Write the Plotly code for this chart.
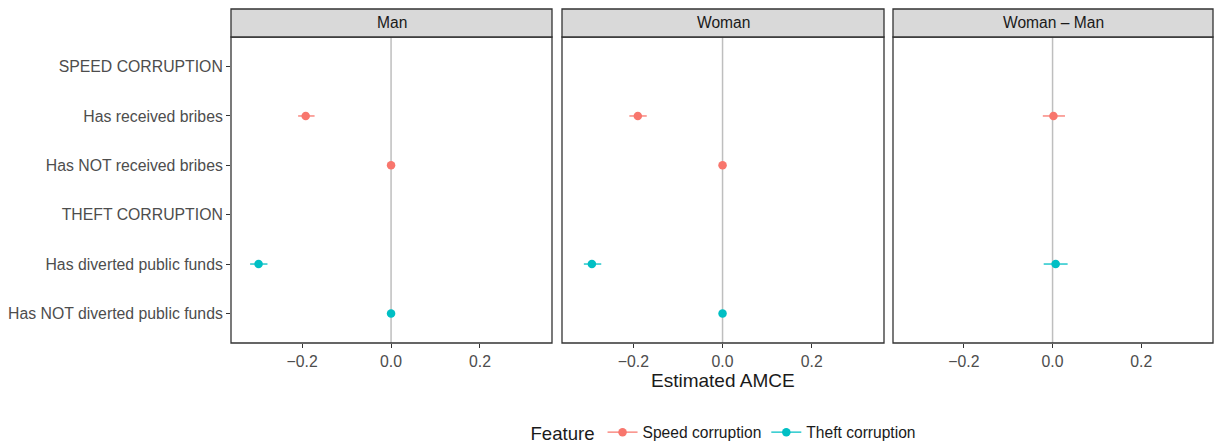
import plotly.graph_objects as go

# ---- data ----
categories = ["SPEED CORRUPTION", "Has received bribes", "Has NOT received bribes",
              "THEFT CORRUPTION", "Has diverted public funds", "Has NOT diverted public funds"]
panels = ["Man", "Woman", "Woman \u2013 Man"]

speed_levels = ["Has received bribes", "Has NOT received bribes"]
theft_levels = ["Has diverted public funds", "Has NOT diverted public funds"]

man_speed_est = [-0.192, 0.0]
man_speed_lo = [-0.209, 0.0]
man_speed_hi = [-0.172, 0.0]
man_theft_est = [-0.298, 0.0]
man_theft_lo = [-0.317, 0.0]
man_theft_hi = [-0.278, 0.0]

woman_speed_est = [-0.190, 0.0]
woman_speed_lo = [-0.209, 0.0]
woman_speed_hi = [-0.170, 0.0]
woman_theft_est = [-0.293, 0.0]
woman_theft_lo = [-0.311, 0.0]
woman_theft_hi = [-0.272, 0.0]

diff_speed_levels = ["Has received bribes"]
diff_theft_levels = ["Has diverted public funds"]
diff_speed_est = [0.002]
diff_speed_lo = [-0.022]
diff_speed_hi = [0.028]
diff_theft_est = [0.007]
diff_theft_lo = [-0.020]
diff_theft_hi = [0.034]

x_ticks = [-0.2, 0.0, 0.2]
x_range = [-0.36, 0.362]

SPEED_COL = "#F8766D"
THEFT_COL = "#00BFC4"
FONT = "Liberation Sans, Arial, Helvetica, sans-serif"

fig = go.Figure()

panel_data = [
    (speed_levels, man_speed_est, man_speed_lo, man_speed_hi, theft_levels, man_theft_est, man_theft_lo, man_theft_hi),
    (speed_levels, woman_speed_est, woman_speed_lo, woman_speed_hi, theft_levels, woman_theft_est, woman_theft_lo, woman_theft_hi),
    (diff_speed_levels, diff_speed_est, diff_speed_lo, diff_speed_hi, diff_theft_levels, diff_theft_est, diff_theft_lo, diff_theft_hi),
]

for i, (sl, se, slo, shi, tl, te, tlo, thi) in enumerate(panel_data):
    xa = "x" if i == 0 else f"x{i+1}"
    for lv, est, lo, hi, col in [(sl, se, slo, shi, SPEED_COL), (tl, te, tlo, thi, THEFT_COL)]:
        fig.add_trace(go.Scatter(
            x=est, y=lv, mode="markers", xaxis=xa, yaxis="y",
            marker=dict(color=col, size=8.5),
            error_x=dict(type="data", symmetric=False,
                         array=[h - e for h, e in zip(hi, est)],
                         arrayminus=[e - l for e, l in zip(est, lo)],
                         color=col, thickness=1.3, width=0),
            showlegend=False, hoverinfo="skip"))

# legend entries
for name, col in [("Speed corruption", SPEED_COL), ("Theft corruption", THEFT_COL)]:
    fig.add_trace(go.Scatter(x=[None], y=[None], mode="lines+markers", name=name,
                             line=dict(color=col, width=1.3), marker=dict(color=col, size=8.5),
                             xaxis="x2", yaxis="y", showlegend=True))

W, H = 1214, 444
ml, mr, mt, mb = 231, 1, 37, 101
pw = W - ml - mr
ph = H - mt - mb
px = lambda p: (p - ml) / pw
domains = [[0, px(552)], [px(562), px(884)], [px(893), 1.0]]

axis_common = dict(range=x_range, tickvals=x_ticks, tickformat=".1f",
                   ticks="outside", ticklen=4, tickcolor="#333333", tickwidth=1,
                   tickfont=dict(family=FONT, size=15.8, color="#4D4D4D"),
                   showgrid=False, zeroline=False, showline=False, anchor="y")

layout = dict(
    width=W, height=H, margin=dict(l=ml, r=mr, t=mt, b=mb, autoexpand=False),
    plot_bgcolor="white", paper_bgcolor="white",
    font=dict(family=FONT),
    yaxis=dict(type="category", categoryorder="array", categoryarray=categories,
               range=[5.6, -0.6], ticks="outside", ticklen=4, tickcolor="#333333",
               tickfont=dict(family=FONT, size=15.8, color="#4D4D4D"),
               showgrid=False, zeroline=False, showline=False, anchor="x",
               automargin=False),
    showlegend=True,
    legend=dict(orientation="h", x=0.503, xanchor="center", y=-(433 - (H - mb)) / ph, yanchor="middle",
                title=dict(text="Feature", font=dict(size=18.6, color="#1A1A1A")),
                font=dict(size=15.6, color="#1A1A1A"), itemwidth=30),
)
for i in range(3):
    key = "xaxis" if i == 0 else f"xaxis{i+1}"
    layout[key] = dict(axis_common, domain=domains[i], automargin=False)
fig.update_layout(**layout)

shapes = []
annotations = []
strip_h = 28 / ph
for i, dom in enumerate(domains):
    xr = "x" if i == 0 else f"x{i+1}"
    # zero reference line
    shapes.append(dict(type="line", xref=xr, yref="paper", x0=0, x1=0, y0=0, y1=1,
                       line=dict(color="#BEBEBE", width=1.5), layer="below"))
    # panel border
    shapes.append(dict(type="rect", xref="paper", yref="paper", x0=dom[0], x1=dom[1], y0=0, y1=1,
                       line=dict(color="#333333", width=1.3)))
    # strip
    shapes.append(dict(type="rect", xref="paper", yref="paper", x0=dom[0], x1=dom[1], y0=1, y1=1 + strip_h,
                       fillcolor="#D9D9D9", line=dict(color="#333333", width=1.3)))
    annotations.append(dict(text=panels[i], xref="paper", yref="paper",
                            x=(dom[0] + dom[1]) / 2, y=1 + strip_h / 2, showarrow=False,
                            xanchor="center", yanchor="middle",
                            font=dict(family=FONT, size=15.6, color="#1A1A1A")))

annotations.append(dict(text="Estimated AMCE", xref="paper", yref="paper",
                        x=(domains[1][0] + domains[1][1]) / 2, y=-(380 - (H - mb)) / ph,
                        showarrow=False, xanchor="center", yanchor="middle",
                        font=dict(family=FONT, size=19, color="#1A1A1A")))
fig.update_layout(shapes=shapes, annotations=annotations)

fig.write_html("out.html")
